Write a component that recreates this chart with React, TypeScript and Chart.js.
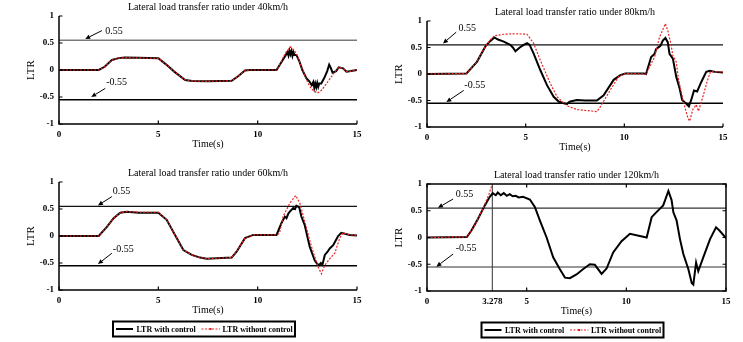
import { useEffect, useRef } from "react";
import { Chart, registerables } from "chart.js";

Chart.register(...registerables);

const FONT = "'Liberation Serif', 'Times New Roman', Times, serif";

// ---------- tick labels ----------
const X_TICKS = [0, 5, 10, 15];
const X_TICKS_120 = [0, 3.278, 5, 10, 15];
const Y_TICKS = [-1, -0.5, 0, 0.5, 1];
const LIMIT_UP = 0.55;
const LIMIT_DOWN = -0.55;
const ROLLOVER_TIME = 3.278;
const LEGEND_CTRL = "LTR with control";
const LEGEND_NOCTRL = "LTR without control";

// ---------- 40 km/h ----------
const T40_CTRL = [0, 2.0, 2.3, 2.66, 3.0, 3.3, 4.0, 5.0, 5.4, 5.8, 6.35, 6.7, 7.5, 8.69, 9.0, 9.36, 9.6, 10.95, 11.2, 11.42, 11.5, 11.55, 11.6, 11.65, 11.7, 11.75, 11.8, 11.85, 11.95, 12.1, 12.25, 12.45, 12.6, 12.72, 12.8, 12.85, 12.9, 12.95, 13.0, 13.05, 13.1, 13.2, 13.35, 13.5, 13.6, 13.68, 13.77, 13.95, 14.08, 14.3, 14.47, 14.7, 15];
const LTR40_CTRL = [0, 0, 0.06, 0.185, 0.22, 0.23, 0.225, 0.216, 0.1, -0.03, -0.185, -0.205, -0.21, -0.2, -0.12, -0.01, 0, 0, 0.15, 0.28, 0.33, 0.27, 0.36, 0.29, 0.35, 0.26, 0.33, 0.28, 0.28, 0.16, 0, -0.15, -0.21, -0.28, -0.22, -0.33, -0.25, -0.32, -0.24, -0.31, -0.25, -0.25, -0.15, -0.02, 0.1, 0.04, -0.05, -0.02, 0.05, 0.03, -0.03, -0.02, 0];
const T40_NOCTRL = [0, 2.0, 2.3, 2.66, 3.0, 3.3, 4.0, 5.0, 5.4, 5.8, 6.35, 6.7, 7.5, 8.69, 9.0, 9.36, 9.6, 10.95, 11.2, 11.4, 11.66, 11.85, 12.0, 12.2, 12.45, 12.7, 13.0, 13.2, 13.47, 13.7, 13.89, 14.08, 14.3, 14.47, 14.7, 15];
const LTR40_NOCTRL = [0, 0, 0.06, 0.185, 0.22, 0.23, 0.225, 0.216, 0.1, -0.03, -0.185, -0.205, -0.21, -0.2, -0.12, -0.01, 0, 0, 0.16, 0.32, 0.43, 0.36, 0.26, 0.06, -0.18, -0.35, -0.43, -0.38, -0.25, -0.13, -0.03, 0.05, 0.03, -0.03, -0.02, 0];

// ---------- 80 km/h ----------
const T80_CTRL = [0, 2.0, 2.53, 2.96, 3.2, 3.41, 3.6, 3.89, 4.22, 4.35, 4.48, 4.7, 4.9, 5.07, 5.2, 5.4, 5.74, 6.08, 6.42, 6.67, 6.9, 7.09, 7.2, 7.26, 7.6, 8.0, 8.61, 8.95, 9.46, 9.8, 10.05, 10.98, 11.1, 11.36, 11.53, 11.61, 11.83, 11.95, 12.08, 12.2, 12.29, 12.46, 12.63, 12.8, 12.93, 13.14, 13.27, 13.39, 13.53, 13.69, 13.9, 14.15, 14.32, 14.6, 15];
const LTR80_CTRL = [0, 0.01, 0.23, 0.52, 0.62, 0.69, 0.65, 0.61, 0.55, 0.5, 0.43, 0.5, 0.55, 0.58, 0.55, 0.39, 0.075, -0.21, -0.43, -0.52, -0.55, -0.57, -0.53, -0.52, -0.49, -0.5, -0.5, -0.4, -0.11, -0.02, 0.01, 0.01, 0.0, 0.32, 0.38, 0.47, 0.53, 0.63, 0.68, 0.6, 0.38, 0.29, -0.05, -0.27, -0.49, -0.56, -0.61, -0.49, -0.31, -0.33, -0.15, 0.04, 0.06, 0.04, 0.03];
const T80_NOCTRL = [0, 2.0, 2.53, 2.96, 3.2, 3.41, 3.89, 4.5, 5.07, 5.4, 5.74, 6.25, 6.59, 7.09, 7.6, 8.61, 8.78, 9.29, 9.71, 10.05, 11.1, 11.53, 11.78, 12.08, 12.2, 12.34, 12.46, 12.63, 12.75, 12.97, 13.22, 13.31, 13.47, 13.64, 13.76, 13.98, 14.19, 14.36, 14.9, 15];
const LTR80_NOCTRL = [0, 0.01, 0.23, 0.52, 0.64, 0.72, 0.75, 0.76, 0.75, 0.58, 0.26, -0.18, -0.43, -0.6, -0.67, -0.71, -0.62, -0.3, -0.05, 0.01, 0, 0.32, 0.69, 0.95, 0.82, 0.6, 0.35, 0.23, -0.11, -0.49, -0.83, -0.89, -0.67, -0.58, -0.7, -0.43, -0.15, 0.04, 0.04, 0.03];

// ---------- 60 km/h ----------
const T60_CTRL = [0, 2.0, 2.41, 2.75, 3.08, 3.42, 4.0, 5.0, 5.42, 5.84, 6.26, 6.68, 7.1, 7.43, 8.69, 8.94, 9.36, 9.78, 10.95, 11.2, 11.37, 11.45, 11.55, 11.62, 11.79, 11.88, 11.95, 12.09, 12.2, 12.37, 12.62, 12.87, 13.0, 13.09, 13.18, 13.26, 13.38, 13.5, 13.63, 13.8, 14.05, 14.21, 14.63, 15];
const LTR60_CTRL = [0, 0, 0.17, 0.33, 0.43, 0.45, 0.43, 0.43, 0.3, 0.02, -0.26, -0.35, -0.4, -0.42, -0.4, -0.29, -0.04, 0.02, 0.02, 0.24, 0.36, 0.33, 0.42, 0.45, 0.52, 0.5, 0.56, 0.53, 0.36, 0.2, -0.2, -0.45, -0.52, -0.54, -0.5, -0.53, -0.35, -0.3, -0.23, -0.17, 0, 0.06, 0.02, 0.01];
const T60_NOCTRL = [0, 2.0, 2.41, 2.75, 3.08, 3.42, 4.0, 5.0, 5.42, 5.84, 6.26, 6.68, 7.1, 7.43, 8.69, 8.94, 9.36, 9.78, 10.95, 11.1, 11.28, 11.62, 11.92, 12.12, 12.37, 12.71, 13.04, 13.21, 13.38, 13.63, 13.88, 14.13, 14.3, 14.63, 15];
const LTR60_NOCTRL = [0, 0, 0.17, 0.33, 0.43, 0.45, 0.44, 0.44, 0.3, 0.02, -0.26, -0.35, -0.4, -0.42, -0.4, -0.29, -0.04, 0.02, 0.02, 0.05, 0.36, 0.61, 0.75, 0.61, 0.27, -0.2, -0.57, -0.7, -0.54, -0.42, -0.32, -0.04, 0.06, 0.02, 0.01];

// ---------- 120 km/h ----------
const T120_CTRL = [0, 2.0, 2.23, 2.56, 2.9, 3.15, 3.3, 3.45, 3.55, 3.7, 3.85, 4.0, 4.15, 4.3, 4.45, 4.6, 4.82, 5.16, 5.41, 5.66, 6.0, 6.33, 6.66, 6.92, 7.17, 7.5, 7.84, 8.17, 8.42, 8.76, 9.01, 9.34, 9.76, 10.18, 11.02, 11.27, 11.5, 11.69, 11.85, 12.11, 12.27, 12.36, 12.52, 12.69, 12.86, 13.11, 13.28, 13.36, 13.5, 13.61, 13.86, 14.2, 14.5, 14.67, 15];
const LTR120_CTRL = [0, 0.01, 0.13, 0.35, 0.6, 0.76, 0.83, 0.79, 0.84, 0.79, 0.83, 0.78, 0.81, 0.77, 0.78, 0.75, 0.76, 0.71, 0.57, 0.32, 0.0, -0.37, -0.59, -0.75, -0.76, -0.69, -0.59, -0.5, -0.51, -0.68, -0.58, -0.28, -0.07, 0.07, 0.0, 0.38, 0.47, 0.54, 0.6, 0.87, 0.7, 0.47, 0.32, -0.03, -0.31, -0.59, -0.85, -0.88, -0.47, -0.63, -0.37, -0.03, 0.19, 0.13, -0.01];
const T120_NOCTRL = [0, 2.0, 2.3, 2.6, 2.9, 3.1, 3.278];
const LTR120_NOCTRL = [0, 0.01, 0.16, 0.38, 0.62, 0.8, 1.0];

type Arrow = { tail: [number, number]; tip: [number, number]; label: string; at: [number, number] };
type HLine = { value: number; color: string; width: number };

interface PanelSpec {
  title: string;
  left: number; top: number; width: number; height: number;
  yAxisWidth: number; xAxisHeight: number; padTop: number; padRight: number;
  ctrlT: number[]; ctrlV: number[]; noT: number[]; noV: number[];
  xTicks: number[];
  hlines: HLine[];
  arrows: Arrow[];
  vline?: number;
  box?: boolean;
  legend?: boolean;
}

const PANELS: PanelSpec[] = [
  {
    title: "Lateral load transfer ratio under 40km/h",
    left: 0, top: 0, width: 371, height: 160,
    yAxisWidth: 59, xAxisHeight: 36, padTop: 16, padRight: 14,
    ctrlT: T40_CTRL, ctrlV: LTR40_CTRL, noT: T40_NOCTRL, noV: LTR40_NOCTRL,
    xTicks: X_TICKS,
    hlines: [{ value: LIMIT_UP, color: "#7a7a7a", width: 1.6 }, { value: LIMIT_DOWN, color: "#000", width: 1.5 }],
    arrows: [
      { tail: [2.16, 0.73], tip: [1.32, 0.575], label: "0.55", at: [2.33, 0.71] },
      { tail: [2.33, -0.34], tip: [1.62, -0.5], label: "-0.55", at: [2.38, -0.22] },
    ],
  },
  {
    title: "Lateral load transfer ratio under 80km/h",
    left: 371, top: 0, width: 372, height: 160,
    yAxisWidth: 56, xAxisHeight: 33, padTop: 21, padRight: 20,
    ctrlT: T80_CTRL, ctrlV: LTR80_CTRL, noT: T80_NOCTRL, noV: LTR80_NOCTRL,
    xTicks: X_TICKS,
    hlines: [{ value: LIMIT_UP, color: "#111", width: 1.3 }, { value: LIMIT_DOWN, color: "#000", width: 1.5 }],
    arrows: [
      { tail: [1.48, 0.79], tip: [0.81, 0.575], label: "0.55", at: [1.59, 0.857] },
      { tail: [1.86, -0.31], tip: [0.98, -0.53], label: "-0.55", at: [1.89, -0.21] },
    ],
  },
  {
    title: "Lateral load transfer ratio under 60km/h",
    left: 0, top: 160, width: 371, height: 182,
    yAxisWidth: 59, xAxisHeight: 52, padTop: 22, padRight: 14,
    ctrlT: T60_CTRL, ctrlV: LTR60_CTRL, noT: T60_NOCTRL, noV: LTR60_NOCTRL,
    xTicks: X_TICKS,
    hlines: [{ value: LIMIT_UP, color: "#111", width: 1.3 }, { value: LIMIT_DOWN, color: "#000", width: 1.4 }],
    arrows: [
      { tail: [2.66, 0.73], tip: [1.96, 0.565], label: "0.55", at: [2.71, 0.82] },
      { tail: [2.66, -0.32], tip: [1.96, -0.52], label: "-0.55", at: [2.71, -0.24] },
    ],
    legend: true,
  },
  {
    title: "Lateral load transfer ratio under 120km/h",
    left: 371, top: 160, width: 372, height: 182,
    yAxisWidth: 56, xAxisHeight: 51, padTop: 24, padRight: 17,
    ctrlT: T120_CTRL, ctrlV: LTR120_CTRL, noT: T120_NOCTRL, noV: LTR120_NOCTRL,
    xTicks: X_TICKS_120,
    hlines: [{ value: LIMIT_UP, color: "#333", width: 1.1 }, { value: LIMIT_DOWN, color: "#333", width: 1.1 }],
    arrows: [
      { tail: [1.31, 0.72], tip: [0.55, 0.555], label: "0.55", at: [1.44, 0.81] },
      { tail: [1.31, -0.31], tip: [0.47, -0.545], label: "-0.55", at: [1.44, -0.2] },
    ],
    vline: ROLLOVER_TIME,
    box: true,
    legend: true,
  },
];

function makePlugin(p: PanelSpec) {
  return {
    id: "decor",
    beforeDatasetsDraw(chart: any) {
      const { ctx, chartArea: a, scales } = chart;
      const xs = scales.x, ys = scales.y;
      ctx.save();
      p.hlines.forEach((h) => {
        const py = ys.getPixelForValue(h.value);
        ctx.strokeStyle = h.color;
        ctx.lineWidth = h.width;
        ctx.beginPath();
        ctx.moveTo(a.left, py);
        ctx.lineTo(a.right, py);
        ctx.stroke();
      });
      if (p.vline != null) {
        const px = xs.getPixelForValue(p.vline);
        ctx.strokeStyle = "#444";
        ctx.lineWidth = 1.1;
        ctx.beginPath();
        ctx.moveTo(px, a.top);
        ctx.lineTo(px, a.bottom);
        ctx.stroke();
      }
      ctx.restore();
    },
    afterDraw(chart: any) {
      const { ctx, chartArea: a, scales } = chart;
      const xs = scales.x, ys = scales.y;
      const mid = (a.left + a.right) / 2;
      ctx.save();
      // axes
      ctx.strokeStyle = "#000";
      ctx.lineWidth = 1.5;
      ctx.beginPath();
      if (p.box) {
        ctx.rect(a.left, a.top, a.right - a.left, a.bottom - a.top);
      } else {
        ctx.moveTo(a.left, a.top);
        ctx.lineTo(a.left, a.bottom);
        ctx.lineTo(a.right, a.bottom);
      }
      ctx.stroke();
      // inward tick marks
      ctx.lineWidth = 1.2;
      ctx.beginPath();
      X_TICKS.forEach((v) => {
        const px = xs.getPixelForValue(v);
        ctx.moveTo(px, a.bottom);
        ctx.lineTo(px, a.bottom - 3.5);
        if (p.box) {
          ctx.moveTo(px, a.top);
          ctx.lineTo(px, a.top + 3.5);
        }
      });
      Y_TICKS.forEach((v) => {
        const py = ys.getPixelForValue(v);
        ctx.moveTo(a.left, py);
        ctx.lineTo(a.left + 3.5, py);
        if (p.box) {
          ctx.moveTo(a.right, py);
          ctx.lineTo(a.right - 3.5, py);
        }
      });
      ctx.stroke();
      // arrows + labels
      ctx.fillStyle = "#000";
      ctx.strokeStyle = "#000";
      ctx.lineWidth = 1;
      ctx.font = `10px ${FONT}`;
      ctx.textAlign = "left";
      ctx.textBaseline = "middle";
      p.arrows.forEach((ar) => {
        const x1 = xs.getPixelForValue(ar.tail[0]);
        const y1 = ys.getPixelForValue(ar.tail[1]);
        const x2 = xs.getPixelForValue(ar.tip[0]);
        const y2 = ys.getPixelForValue(ar.tip[1]);
        const ang = Math.atan2(y2 - y1, x2 - x1);
        const hl = 5, hw = 2.3;
        const bx = x2 - hl * Math.cos(ang), by = y2 - hl * Math.sin(ang);
        ctx.beginPath();
        ctx.moveTo(x1, y1);
        ctx.lineTo(bx, by);
        ctx.stroke();
        ctx.beginPath();
        ctx.moveTo(x2, y2);
        ctx.lineTo(bx + hw * Math.sin(ang), by - hw * Math.cos(ang));
        ctx.lineTo(bx - hw * Math.sin(ang), by + hw * Math.cos(ang));
        ctx.closePath();
        ctx.fill();
        ctx.fillText(ar.label, xs.getPixelForValue(ar.at[0]), ys.getPixelForValue(ar.at[1]));
      });
      // title
      ctx.textAlign = "center";
      ctx.font = `10px ${FONT}`;
      ctx.fillText(p.title, mid, a.top - 8.5);
      // x axis title
      ctx.fillText("Time(s)", mid, a.bottom + 20.5);
      // y axis title
      ctx.save();
      ctx.translate(a.left - 28, (a.top + a.bottom) / 2);
      ctx.rotate(-Math.PI / 2);
      ctx.font = `11px ${FONT}`;
      ctx.fillText("LTR", 0, 0);
      ctx.restore();
      // legend
      if (p.legend) {
        const bl = mid - 95, bt = a.bottom + 31.5, bw = 182, bh = 15;
        const cy = bt + bh / 2;
        ctx.lineWidth = 2;
        ctx.strokeStyle = "#000";
        ctx.strokeRect(bl, bt, bw, bh);
        ctx.beginPath();
        ctx.lineWidth = 2;
        ctx.moveTo(bl + 3, cy);
        ctx.lineTo(bl + 20, cy);
        ctx.stroke();
        ctx.save();
        ctx.strokeStyle = "rgb(235,35,35)";
        ctx.lineWidth = 1.2;
        ctx.setLineDash([2, 1.5]);
        ctx.beginPath();
        ctx.moveTo(bl + 88.5, cy);
        ctx.lineTo(bl + 107, cy);
        ctx.stroke();
        ctx.restore();
        ctx.fillStyle = "rgb(220,30,30)";
        ctx.fillRect(bl + 96.5, cy - 1, 2, 2);
        ctx.fillStyle = "#000";
        ctx.textAlign = "left";
        ctx.font = `bold 8px ${FONT}`;
        ctx.fillText(LEGEND_CTRL, bl + 23.5, cy + 0.5);
        ctx.fillText(LEGEND_NOCTRL, bl + 109.5, cy + 0.5);
      }
      ctx.restore();
    },
  };
}

function Panel({ spec }: { spec: PanelSpec }) {
  const ref = useRef<HTMLCanvasElement>(null);
  useEffect(() => {
    const canvas = ref.current;
    if (!canvas) return;
    const tickFont = { family: FONT, size: 9, weight: "bold" as const };
    const chart = new Chart(canvas, {
      type: "line",
      data: {
        datasets: [
          {
            label: LEGEND_CTRL,
            data: spec.ctrlT.map((t, i) => ({ x: t, y: spec.ctrlV[i] })),
            borderColor: "#000",
            borderWidth: 2,
            pointRadius: 0,
            tension: 0,
            fill: false,
            order: 1,
          },
          {
            label: LEGEND_NOCTRL,
            data: spec.noT.map((t, i) => ({ x: t, y: spec.noV[i] })),
            borderColor: "rgb(235,35,35)",
            borderWidth: 1.2,
            borderDash: [2, 1.5],
            pointRadius: 0,
            tension: 0,
            fill: false,
            order: 0,
          },
        ],
      },
      options: {
        responsive: false,
        animation: false,
        devicePixelRatio: 1,
        events: [],
        layout: { padding: { left: 0, top: spec.padTop, right: spec.padRight, bottom: 0 } },
        plugins: { legend: { display: false }, tooltip: { enabled: false }, title: { display: false } },
        scales: {
          x: {
            type: "linear",
            min: 0,
            max: 15,
            afterBuildTicks: (s: any) => {
              s.ticks = spec.xTicks.map((v) => ({ value: v }));
            },
            afterFit: (s: any) => {
              s.height = spec.xAxisHeight;
            },
            grid: { display: false, drawTicks: false },
            border: { display: false },
            ticks: {
              padding: 5,
              color: "#000",
              font: tickFont,
              maxRotation: 0,
              autoSkip: false,
              callback: (v: any) => String(v),
            },
          },
          y: {
            type: "linear",
            min: -1,
            max: 1,
            afterBuildTicks: (s: any) => {
              s.ticks = Y_TICKS.map((v) => ({ value: v }));
            },
            afterFit: (s: any) => {
              s.width = spec.yAxisWidth;
            },
            grid: { display: false, drawTicks: false },
            border: { display: false },
            ticks: {
              padding: 5,
              color: "#000",
              font: tickFont,
              autoSkip: false,
              callback: (v: any) => String(v),
            },
          },
        },
      },
      plugins: [makePlugin(spec)],
    } as any);
    return () => chart.destroy();
  }, [spec]);
  return (
    <canvas
      ref={ref}
      width={spec.width}
      height={spec.height}
      style={{ position: "absolute", left: spec.left, top: spec.top, width: spec.width, height: spec.height, display: "block" }}
    />
  );
}

export default function App() {
  return (
    <div style={{ position: "absolute", left: 0, top: 0, width: 743, height: 342, background: "#fff", overflow: "hidden" }}>
      {PANELS.map((p, i) => (
        <Panel key={i} spec={p} />
      ))}
    </div>
  );
}
